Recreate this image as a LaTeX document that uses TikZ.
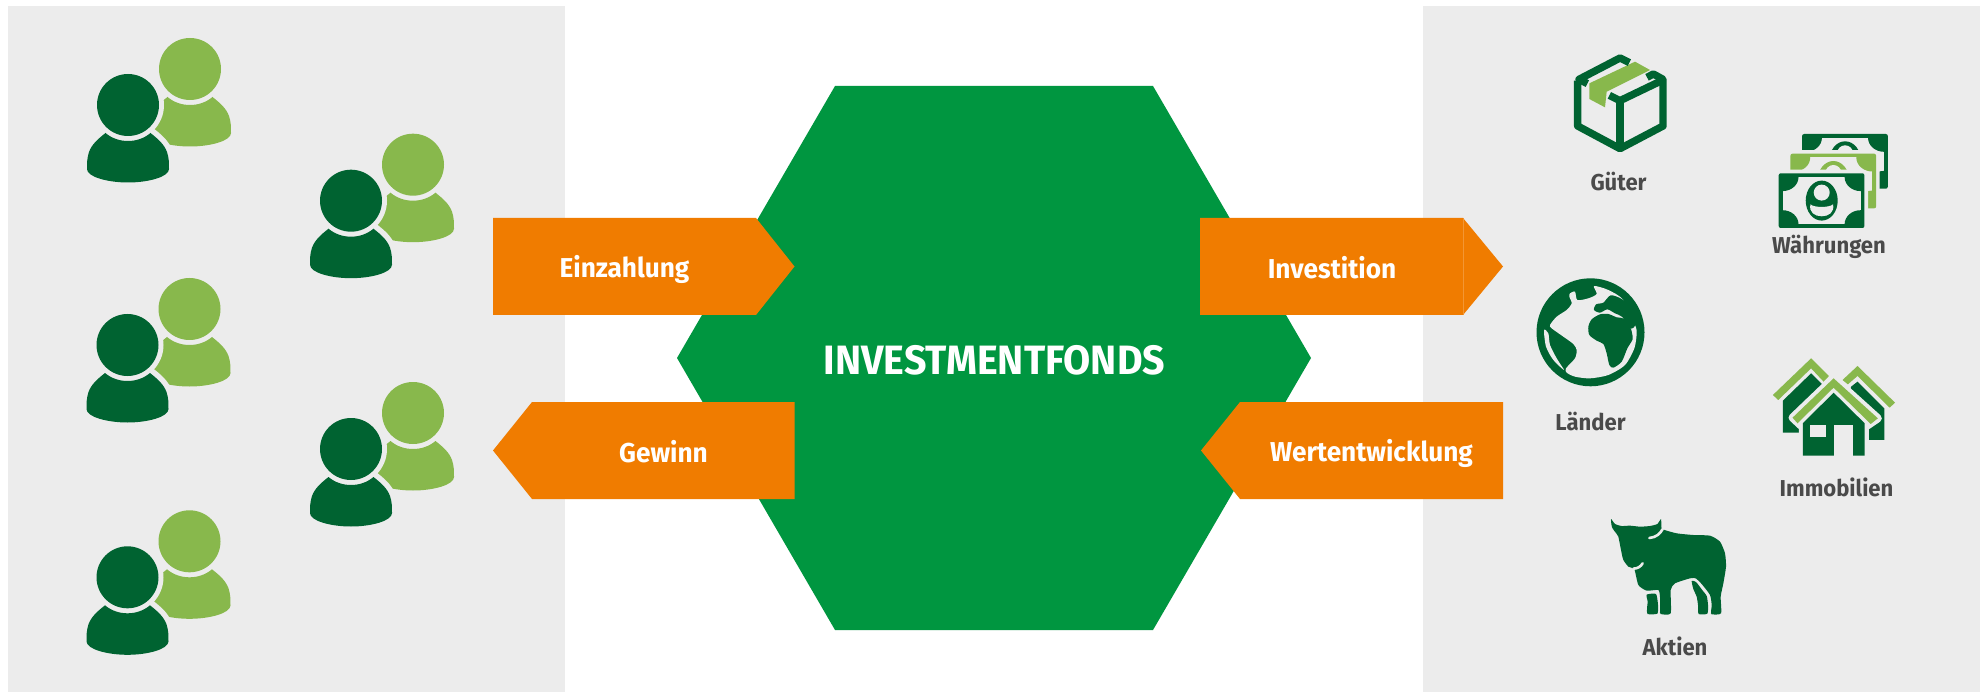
\documentclass[tikz,border=0pt]{standalone}
\usepackage{fontspec}
\setmainfont{Fira Sans}[FakeStretch=0.96]
\definecolor{panelg}{HTML}{ECECEC}
\definecolor{darkg}{HTML}{006331}
\definecolor{lightg}{HTML}{88B84C}
\definecolor{hexg}{HTML}{009640}
\definecolor{orangea}{HTML}{F07C00}
\definecolor{textg}{HTML}{4A4A4A}
\tikzset{
  arrowshape/.style={fill=orangea},
  arrowtext/.style={font=\fontsize{27.3}{30}\selectfont\bfseries,text=white,inner sep=0pt},
  assettext/.style={font=\fontsize{23}{28}\selectfont\bfseries,text=textg,inner sep=0pt},
  darkicon/.style={fill=darkg},
  lighticon/.style={fill=lightg},
  pics/personbody/.style={code={
    \path[pic actions] (-22.5,28) .. controls (-16,33.5) and (-8,36) .. (0,36)
      .. controls (8,36) and (16,33.5) .. (22.5,28)
      .. controls (30,34) and (36,39) .. (39,47)
      .. controls (41,53) and (41,58) .. (41,64)
      .. controls (41,72) and (20,77.5) .. (0,77.5)
      .. controls (-20,77.5) and (-41,72) .. (-41,64)
      .. controls (-41,58) and (-41,53) .. (-39,47)
      .. controls (-36,39) and (-30,34) .. (-22.5,28) -- cycle;
  }},
  pics/people/.style={code={
    \pic[fill=lightg] at (62,-36) {personbody};
    \fill[lightg] (62,-36) circle [radius=31pt];
    \fill[panelg] (0,0) circle [radius=36pt];
    \pic[fill=panelg,draw=panelg,line width=11pt,line join=round] at (0,0) {personbody};
    \pic[fill=darkg] at (0,0) {personbody};
    \fill[darkg] (0,0) circle [radius=31pt];
  }},
  pics/banknote/.style={code={
    \draw[draw=panelg,line width=7.2pt,rounded corners=2pt] (0,0) rectangle (85.7,54.7);
    \fill[#1,rounded corners=2pt] (0,0) rectangle (85.7,54.7);
    \fill[panelg] (3.8,3.8) rectangle (81.9,50.9);
    \begin{scope}
      \clip (1.5,1.5) rectangle (84.2,53.2);
      \fill[#1] (3.8,3.8) circle [x radius=16pt,y radius=14pt];
      \fill[#1] (81.9,3.8) circle [x radius=16pt,y radius=14pt];
      \fill[#1] (3.8,50.9) circle [x radius=16pt,y radius=14pt];
      \fill[#1] (81.9,50.9) circle [x radius=16pt,y radius=14pt];
    \end{scope}
    \fill[#1] (43,27.3) circle [x radius=16pt,y radius=20pt];
    \fill[panelg] (43,19.3) circle [x radius=8pt,y radius=8pt];
    \fill[panelg] (31.7,31) .. controls (35,34.5) and (51,34.5) .. (54.3,31)
      .. controls (56,39) and (50,43) .. (43,43) .. controls (36,43) and (30,39) .. (31.7,31) -- cycle;
  }}
}
\begin{document}
\begin{tikzpicture}[x=1pt,y=-1pt]
\useasboundingbox (0,0) rectangle (1980,692);
\fill[white] (0,0) rectangle (1980,692);
\fill[panelg] (7.5,6) rectangle (565,692);
\fill[panelg] (1423,6) rectangle (1980,692);

% people
\pic (p1) at (128,105) {people};
\pic (p2) at (351,200.7) {people};
\pic (p3) at (127.5,345) {people};
\pic (p4) at (351,449) {people};
\pic (p5) at (127.5,577.3) {people};

% hexagon
\fill[hexg] (835,86) -- (1153,86) -- (1311,358) -- (1153,630) -- (835,630) -- (677,358) -- cycle;
\node[font=\fontsize{41}{48}\selectfont\bfseries,text=white,inner sep=0pt] (fund) at (994.5,360.5) {INVESTMENTFONDS};

% arrows
\fill[arrowshape] (493,218) -- (756,218) -- (794.5,266.5) -- (756,315) -- (493,315) -- cycle;
\node[arrowtext] (ein) at (624.5,269) {Einzahlung};
\fill[arrowshape] (1200,218) -- (1463,218) -- (1503,266.5) -- (1463,315) -- (1200,315) -- cycle;
\draw[orangea!80!white,line width=0.5pt] (1463,218) -- (1463,315);
\node[arrowtext] (inv) at (1332,268) {Investition};
\fill[arrowshape] (794.5,402) -- (532,402) -- (493,450.5) -- (532,499) -- (794.5,499) -- cycle;
\node[arrowtext] (gew) at (663.5,452) {Gewinn};
\fill[arrowshape] (1503,402) -- (1240,402) -- (1201,450.5) -- (1240,499) -- (1503,499) -- cycle;
\node[arrowtext] (wert) at (1371.5,453) {Wertentwicklung};

% box
\begin{scope}[shift={(1565pt,-50pt)},x=0.33333pt,y=-0.33333pt]
  \fill[lighticon] (210,35) -- (255,60) -- (125,125) -- (120,172) -- (73,147) -- (73,100) -- cycle;
  \begin{scope}[draw=darkg,line width=7.4pt,line join=round]
    \draw (67,101) -- (42,88) -- (165,24) -- (193,38);
    \draw (38,92) -- (38,228) -- (165,296) -- (294,228) -- (294,88) -- (265,72) -- (246,82);
    \draw (133,136) -- (165,152) -- (294,90);
    \draw (165,152) -- (165,296);
  \end{scope}
\end{scope}
\node[assettext] (gueter) at (1618.5,182) {Güter};

% banknotes
\pic (n3) at (1802.1,134) {banknote=darkg};
\pic (n2) at (1790.4,153.7) {banknote=lightg};
\pic (n1) at (1778.7,173.3) {banknote=darkg};
\node[assettext] (waehr) at (1829,247) {Währungen};

% globe
\fill[darkg] (1590.5,332.3) circle [radius=54pt];
\begin{scope}[shift={(1520pt,-270pt)},x=0.33333pt,y=-0.33333pt]
  \fill[panelg] plot[smooth cycle,tension=0.45] coordinates {
    (150,70) (165,65) (172,90) (205,85) (230,72) (222,48) (265,60) (310,90) (345,165) (350,190)
    (343,235) (315,285) (265,315) (210,325)
    (165,320) (140,308) (138,295) (165,265) (170,240) (160,222) (130,200) (95,175) (90,165)
    (110,140) (140,120) (155,100) (148,80)};
  \fill[panelg] plot[smooth cycle,tension=0.45] coordinates {
    (72,180) (85,190) (90,225) (110,265) (132,300) (100,270) (78,230)};
  \fill[darkg] plot[smooth cycle,tension=0.45] coordinates {
    (305,87) (272,76) (250,98) (228,103) (222,120) (240,128) (262,118) (285,130) (307,141)
    (330,175) (347,165) (345,120)};
  \fill[darkg] plot[smooth cycle,tension=0.45] coordinates {
    (215,148) (240,133) (265,132) (290,142) (312,146) (332,175) (336,190) (338,208) (322,235) (305,275)
    (280,293) (268,285) (260,250) (250,222) (230,212) (208,195) (205,170)};
\end{scope}
\node[assettext] (laender) at (1590.5,422) {Länder};

% houses
\begin{scope}[shift={(1420pt,-340pt)},x=0.35714pt,y=-0.33333pt]
  \fill[darkicon] (1016,278) -- (1016,182) -- (1095,100) -- (1180,190) -- (1180,278) -- cycle;
  \fill[darkicon] (1207,140) -- (1225,125) -- (1300,205) -- (1300,300) -- (1180,300) -- cycle;
  \fill[lighticon] (988,165) -- (1095,55) -- (1145,108) -- (1130,125) -- (1095,85) -- (1003,180) -- cycle;
  \fill[lighticon] (1183,120) -- (1225,78) -- (1330,188) -- (1315,203) -- (1225,108) -- (1198,133) -- cycle;
  \filldraw[draw=panelg,fill=panelg,line width=8pt,line join=round]
    (1043,233) -- (1158,115) -- (1282,235) -- (1245,262) -- (1245,310) -- (1072,310) -- (1072,262) -- cycle;
  \fill[panelg] (1060,255) rectangle (1258,347);
  \fill[lighticon] (1043,233) -- (1158,115) -- (1282,235) -- (1262,252) -- (1158,143) -- (1057,250) -- cycle;
  \fill[darkicon] (1072,250) -- (1158,158) -- (1245,250) -- (1245,347) -- (1072,347) -- cycle;
  \fill[panelg] (1158,255) rectangle (1212,347);
  \fill[panelg] (1092,255) rectangle (1137,290);
\end{scope}
\node[assettext] (immo) at (1836.5,487) {Immobilien};

% bull
\begin{scope}[shift={(1600pt,-510pt)},x=0.33333pt,y=-0.33333pt]
  \fill[darkicon] plot[smooth cycle,tension=0.35] coordinates {
    (33,27) (45,42) (65,48) (90,47) (120,50) (150,48) (172,42) (183,27) (184,48) (188,58)
    (230,70) (280,75) (330,77) (360,95) (375,130) (378,170) (370,220) (362,260) (363,310)
    (335,313) (333,305) (335,285) (330,255) (305,222) (287,205) (270,205) (225,220) (212,240)
    (212,310) (182,312) (180,300) (180,262) (175,240) (140,242) (115,225) (103,178)
    (85,170) (70,150) (65,130) (55,80) (50,72) (36,52)};
  \fill[darkicon] plot[smooth cycle,tension=0.35] coordinates {
    (275,213) (288,216) (305,238) (320,258) (324,285) (322,311) (296,312) (294,285) (290,260) (280,237)};
  \fill[darkicon] plot[smooth cycle,tension=0.35] coordinates {
    (140,254) (168,252) (174,285) (172,311) (143,312) (141,295) (143,275)};
  \draw[panelg,line width=2.6pt,line cap=round] (148,84) .. controls (168,82) and (180,72) .. (188,57);
  \draw[panelg,line width=2.6pt,line cap=round] (100,176) .. controls (112,176) and (122,170) .. (128,160);
\end{scope}
\node[assettext] (aktien) at (1675,646.5) {Aktien};
\end{tikzpicture}
\end{document}
